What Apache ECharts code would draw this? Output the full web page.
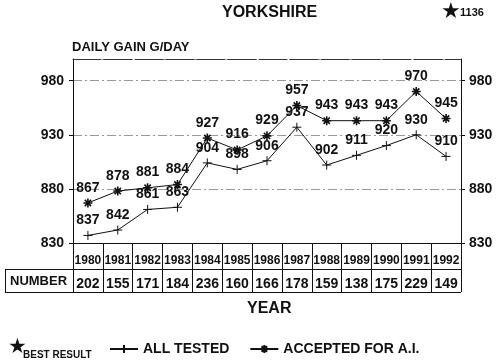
<!DOCTYPE html>
<html>
<head>
<meta charset="utf-8">
<script src="https://cdn.jsdelivr.net/npm/echarts@6/dist/echarts.min.js"></script>
<style>html,body{margin:0;padding:0;background:#fff;}#c{width:500px;height:364px;}</style>
</head>
<body>
<div id="c"></div>
<script>
var years = ['1980','1981','1982','1983','1984','1985','1986','1987','1988','1989','1990','1991','1992'];
var numbers = ['202','155','171','184','236','160','166','178','159','138','175','229','149'];
var allTested = [837, 842, 861, 863, 904, 898, 906, 937, 902, 911, 920, 930, 910];
var accepted = [867, 878, 881, 884, 927, 916, 929, 957, 943, 943, 943, 970, 945];
var yTicks = [830, 880, 930, 980];

var FONT = '"Liberation Sans", Arial, sans-serif';
var INK = '#111';
var chart = echarts.init(document.getElementById('c'));
var plusPath = 'path://M0,5L10,5M5,0L5,10';
var starPath = 'path://M0,5L10,5M5,0L5,10M1.5,1.5L8.5,8.5M8.5,1.5L1.5,8.5';

chart.setOption({
  animation: false,
  backgroundColor: '#fff',
  textStyle: {fontFamily: FONT, color: INK},
  grid: {left: 73, right: 39, top: 59, bottom: 121},
  legend: {
    left: 104, top: 337, itemWidth: 28, itemHeight: 10, itemGap: 20,
    textStyle: {fontFamily: FONT, fontSize: 14, fontWeight: 'bold', color: INK},
    data: ['ALL TESTED', 'ACCEPTED FOR A.I.']
  },
  xAxis: [
    {type: 'category', data: years, position: 'bottom', boundaryGap: true,
     axisLine: {lineStyle: {color: INK, width: 1}},
     axisTick: {inside: true, length: 5, alignWithLabel: true, lineStyle: {color: INK}},
     axisLabel: {interval: 0, margin: 12, fontSize: 12, fontWeight: 'bold', color: INK, fontFamily: FONT},
     splitLine: {show: false}},
    {type: 'category', data: numbers, position: 'bottom', boundaryGap: true,
     axisLine: {show: true, lineStyle: {color: INK, width: 1}},
     axisTick: {show: true, inside: false, length: 49, interval: 0, lineStyle: {color: INK, width: 1}},
     axisLabel: {interval: 0, margin: 34, fontSize: 14, fontWeight: 'bold', color: INK, fontFamily: FONT},
     splitLine: {show: false}},
    {type: 'category', data: years, position: 'top', boundaryGap: true,
     axisLine: {show: true, lineStyle: {color: '#333', width: 1, type: [28, 3]}},
     axisTick: {show: false}, axisLabel: {show: false}, splitLine: {show: false}}
  ],
  yAxis: [
    {type: 'value', min: yTicks[0], max: 1000, interval: 50, position: 'left',
     axisLine: {show: true, lineStyle: {color: INK}},
     axisTick: {show: true, length: 4, lineStyle: {color: INK}},
     axisLabel: {margin: 9, fontSize: 14, fontWeight: 'bold', color: INK, fontFamily: FONT, showMaxLabel: false},
     splitLine: {show: true, lineStyle: {color: '#999', width: 1, type: [9, 3, 2, 3]}}},
    {type: 'value', min: yTicks[0], max: 1000, interval: 50, position: 'right',
     axisLine: {show: true, lineStyle: {color: INK}},
     axisTick: {show: true, length: 4, lineStyle: {color: INK}},
     axisLabel: {margin: 8, fontSize: 14, fontWeight: 'bold', color: INK, fontFamily: FONT, showMaxLabel: false},
     splitLine: {show: false}}
  ],
  series: [
    {name: 'ALL TESTED', type: 'line', data: allTested, xAxisIndex: 0, yAxisIndex: 0,
     symbol: plusPath, symbolSize: 9, showAllSymbol: true,
     lineStyle: {color: INK, width: 1},
     itemStyle: {color: INK, borderColor: INK, borderWidth: 1},
     label: {show: true, position: 'top', distance: 3, fontSize: 14, fontWeight: 'bold', color: INK, fontFamily: FONT}},
    {name: 'ACCEPTED FOR A.I.', type: 'line', data: accepted, xAxisIndex: 0, yAxisIndex: 0,
     symbol: starPath, symbolSize: 9, showAllSymbol: true,
     lineStyle: {color: INK, width: 1},
     itemStyle: {color: INK, borderColor: INK, borderWidth: 1.6},
     label: {show: true, position: 'top', distance: 3, fontSize: 14, fontWeight: 'bold', color: INK, fontFamily: FONT}}
  ],
  graphic: [
    {type: 'text', left: 222, top: 5, style: {text: 'YORKSHIRE', font: 'bold 16px ' + FONT, fill: INK}},
    {type: 'text', left: 441, top: 1, style: {text: '★', font: '22px "DejaVu Sans"', fill: INK}},
    {type: 'text', left: 460, top: 7, style: {text: '1136', font: 'bold 11px ' + FONT, fill: INK}},
    {type: 'text', left: 72, top: 41, style: {text: 'DAILY GAIN G/DAY', font: 'bold 13px ' + FONT, fill: INK}},
    {type: 'text', left: 247, top: 301, style: {text: 'YEAR', font: 'bold 16px ' + FONT, fill: INK}},
    {type: 'text', left: 10, top: 275, style: {text: 'NUMBER', font: 'bold 13px ' + FONT, fill: INK}},
    {type: 'text', left: 8, top: 337, style: {text: '★', font: '21px "DejaVu Sans"', fill: INK}},
    {type: 'text', left: 23, top: 350, style: {text: 'BEST RESULT', font: 'bold 10px ' + FONT, fill: INK}},
    {type: 'line', shape: {x1: 5, y1: 269.5, x2: 461, y2: 269.5}, style: {stroke: INK, lineWidth: 1}},
    {type: 'line', shape: {x1: 5, y1: 292.5, x2: 461, y2: 292.5}, style: {stroke: INK, lineWidth: 1}},
    {type: 'line', shape: {x1: 5.5, y1: 269, x2: 5.5, y2: 293}, style: {stroke: INK, lineWidth: 1}}
  ]
});
</script>
</body>
</html>
